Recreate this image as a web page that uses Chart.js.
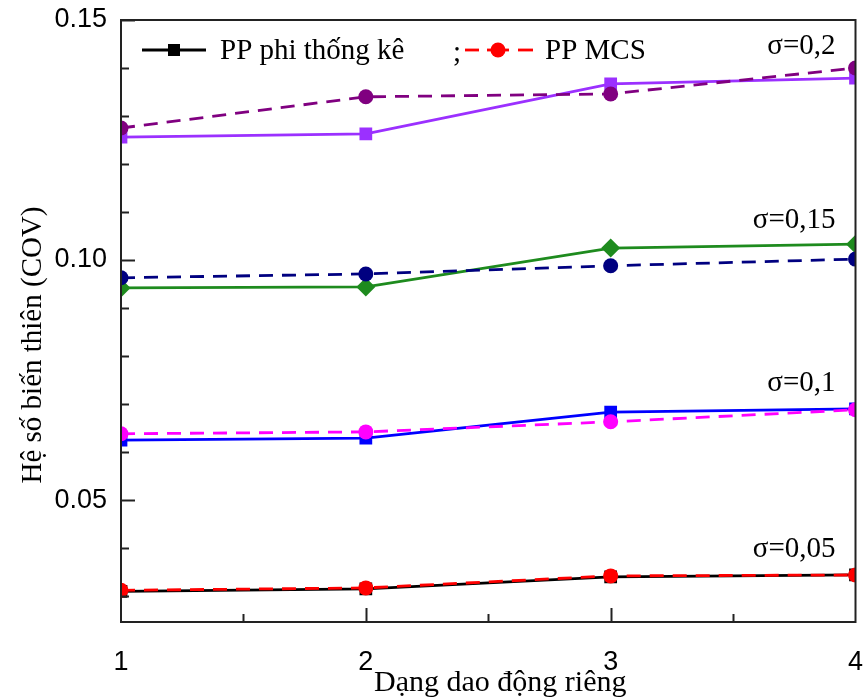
<!DOCTYPE html>
<html>
<head>
<meta charset="utf-8">
<script src="https://cdn.jsdelivr.net/npm/chart.js@4.4.1/dist/chart.umd.min.js"></script>
<style>
  html, body { margin: 0; padding: 0; background: #fff; }
  #wrap { width: 865px; height: 697px; }
</style>
</head>
<body>
<div id="wrap"><canvas id="chart" width="865" height="697"></canvas></div>
<script>
// dang dao dong (x)
const modes = [1, 2, 3, 4];
const yTicks = [0.05, 0.10, 0.15];

// PP phi thong ke (solid)
const solid02  = [0.1256, 0.1263, 0.1367, 0.1379];
const solid015 = [0.0942, 0.0944, 0.1025, 0.1033];
const solid01  = [0.0625, 0.0629, 0.0683, 0.0690];
const solid005 = [0.0310, 0.0315, 0.0340, 0.0344];

// PP MCS (dashed)
const mcs02  = [0.1275, 0.1340, 0.1346, 0.1400];
const mcs015 = [0.0963, 0.0971, 0.0988, 0.1002];
const mcs01  = [0.0638, 0.0642, 0.0663, 0.0688];
const mcs005 = [0.0312, 0.0317, 0.0342, 0.0344];

const sigmaLabels = ["σ=0,2", "σ=0,15", "σ=0,1", "σ=0,05"];
const sigmaAt = [0.1444, 0.1083, 0.0744, 0.0398];

const xTitle = "Dạng dao động riêng";
const yTitle = "Hệ số biến thiên (COV)";

const pts = arr => arr.map((v, i) => ({ x: modes[i], y: v }));

function solidDs(data, color, shape) {
  return {
    data: pts(data), borderColor: color, backgroundColor: color, order: 1,
    borderWidth: 2.8, pointStyle: shape || "rect", pointRadius: shape === "rectRot" ? 9.5 : 9,
    pointBorderWidth: 0, tension: 0
  };
}
function dashDs(data, color) {
  return {
    data: pts(data), borderColor: color, backgroundColor: color, order: 0,
    borderWidth: 2.8, borderDash: [14, 9], pointStyle: "circle", pointRadius: 7.5,
    pointBorderWidth: 0, tension: 0
  };
}

const serif = "'Liberation Serif', 'Times New Roman', serif";

// khung, vach chia trong, chu thich, ten truc
const decor = {
  id: "decor",
  afterDraw(chart) {
    const { ctx, chartArea: a, scales } = chart;
    const xs = scales.x, ys = scales.y;
    ctx.save();
    ctx.strokeStyle = "#222";
    ctx.lineWidth = 2;
    ctx.strokeRect(a.left, a.top, a.right - a.left, a.bottom - a.top);
    // y ticks
    for (let k = 3; k <= 15; k++) {
      const y = Math.round(ys.getPixelForValue(k / 100)) + 0.5;
      const major = k % 5 === 0;
      ctx.beginPath();
      ctx.moveTo(a.left, y);
      ctx.lineTo(a.left + (major ? 14 : 8), y);
      ctx.stroke();
    }
    // x ticks
    for (let k = 3; k < 8; k++) {
      const x = Math.round(xs.getPixelForValue(k / 2)) + 0.5;
      const major = k % 2 === 0;
      ctx.beginPath();
      ctx.moveTo(x, a.bottom);
      ctx.lineTo(x, a.bottom - (major ? 14 : 8));
      ctx.stroke();
    }
    // legend
    ctx.font = "29px " + serif;
    ctx.textBaseline = "middle";
    ctx.fillStyle = "#000";
    const ly = a.top + 30;
    ctx.strokeStyle = "#000";
    ctx.lineWidth = 2.8;
    ctx.beginPath(); ctx.moveTo(a.left + 21, ly); ctx.lineTo(a.left + 85, ly); ctx.stroke();
    ctx.fillRect(a.left + 47, ly - 6, 12, 12);
    ctx.fillText("PP phi thống kê", a.left + 99, ly + 1);
    ctx.fillText(";", a.left + 332, ly + 3);
    ctx.strokeStyle = "#ff0000";
    ctx.beginPath(); ctx.moveTo(a.left + 344, ly); ctx.lineTo(a.left + 358, ly); ctx.stroke();
    ctx.beginPath(); ctx.moveTo(a.left + 366, ly); ctx.lineTo(a.left + 388, ly); ctx.stroke();
    ctx.beginPath(); ctx.moveTo(a.left + 397, ly); ctx.lineTo(a.left + 412, ly); ctx.stroke();
    ctx.fillStyle = "#ff0000";
    ctx.beginPath(); ctx.arc(a.left + 377, ly, 7.5, 0, Math.PI * 2); ctx.fill();
    ctx.fillStyle = "#000";
    ctx.fillText("PP MCS", a.left + 424, ly + 1);
    // sigma labels
    ctx.textAlign = "right";
    sigmaLabels.forEach((t, i) => ctx.fillText(t, a.right - 20, ys.getPixelForValue(sigmaAt[i])));
    // axis titles
    ctx.textAlign = "center";
    ctx.font = "30px " + serif;
    ctx.fillText(xTitle, (a.left + a.right) / 2 + 12, 683);
    ctx.translate(33, (a.top + a.bottom) / 2 + 24);
    ctx.rotate(-Math.PI / 2);
    ctx.font = "29px " + serif;
    ctx.fillText(yTitle, 0, 0);
    ctx.restore();
  }
};

new Chart(document.getElementById("chart"), {
  type: "line",
  data: {
    datasets: [
      dashDs(mcs02, "#800080"),
      solidDs(solid02, "#9b30ff"),
      dashDs(mcs015, "#000080"),
      solidDs(solid015, "#1e8b1e", "rectRot"),
      dashDs(mcs01, "#ff00ff"),
      solidDs(solid01, "#0000ff"),
      solidDs(solid005, "#000000"),
      dashDs(mcs005, "#ff0000")
    ]
  },
  options: {
    responsive: false,
    animation: false,
    layout: { padding: { top: 20, right: 7, left: 0, bottom: 0 } },
    plugins: { legend: { display: false }, tooltip: { enabled: false } },
    scales: {
      x: {
        type: "linear", min: 1, max: 4,
        afterBuildTicks: s => { s.ticks = modes.map(v => ({ value: v })); },
        afterFit: s => { s.height = 75; s.paddingLeft = 0; s.paddingRight = 0; },
        grid: { display: false, drawTicks: false },
        border: { display: false },
        ticks: { padding: 24, maxRotation: 0, color: "#000", font: { family: "'Liberation Sans', Arial", size: 27 }, callback: v => String(v) }
      },
      y: {
        type: "linear", min: 0.0246, max: 0.15,
        afterBuildTicks: s => { s.ticks = yTicks.map(v => ({ value: v })); },
        afterFit: s => { s.width = 121; s.paddingTop = 0; s.paddingBottom = 0; },
        grid: { display: false, drawTicks: false },
        border: { display: false },
        ticks: { padding: 14, color: "#000", font: { family: "'Liberation Sans', Arial", size: 27 }, callback: v => v.toFixed(2) }
      }
    }
  },
  plugins: [decor]
});
</script>
</body>
</html>
